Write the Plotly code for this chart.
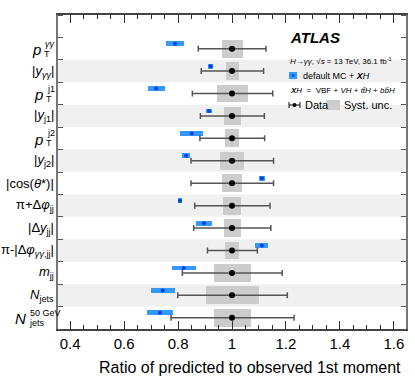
import plotly.graph_objects as go

# label pieces: main text, subscript, superscript (stacked like in ROOT)
label_main = ["<i>p</i>", "|<i>y</i>", "<i>p</i>", "|<i>y</i>", "<i>p</i>", "|<i>y</i>",
              "|cos(<i>θ</i>*)|", "π+Δ<i>φ</i>", "|Δ<i>y</i>", "π-|Δ<i>φ</i>",
              "<i>m</i>", "<i>N</i>", "<i>N</i>"]
label_sub = ["T", "<i>γγ</i>", "T", "j1", "T", "j2", "", "jj", "jj", "<i>γγ</i>,jj",
             "jj", "jets", "jets"]
label_sup = ["<i>γγ</i>", "", "j1", "", "j2", "", "", "", "", "", "", "", "50 GeV"]
label_tail = ["", "|", "", "|", "", "|", "", "", "|", "|", "", "", ""]

observed = [1.0] * 13
stat_lo = [0.125, 0.114, 0.147, 0.117, 0.119, 0.152, 0.152, 0.138, 0.142, 0.091, 0.184, 0.201, 0.226]
stat_hi = [0.126, 0.117, 0.151, 0.120, 0.121, 0.154, 0.154, 0.141, 0.144, 0.094, 0.186, 0.205, 0.230]
syst_lo = [0.038, 0.023, 0.057, 0.031, 0.026, 0.043, 0.036, 0.032, 0.031, 0.025, 0.067, 0.096, 0.067]
syst_hi = [0.040, 0.027, 0.060, 0.033, 0.027, 0.044, 0.038, 0.034, 0.033, 0.027, 0.069, 0.100, 0.069]

pred = [0.789, 0.921, 0.719, 0.915, 0.851, 0.830, 1.111, 0.807, 0.896, 1.111, 0.821, 0.743, 0.733]
pred_err = [0.033, 0.010, 0.032, 0.012, 0.043, 0.014, 0.010, 0.006, 0.031, 0.024, 0.045, 0.045, 0.047]

rows = list(range(len(label_main)))
FONT = "Liberation Sans, Arial, sans-serif"

fig = go.Figure()

# grey syst boxes
fig.add_trace(go.Bar(
    y=rows, x=[l + h for l, h in zip(syst_lo, syst_hi)],
    base=[o - l for o, l in zip(observed, syst_lo)],
    orientation="h", width=0.8, marker=dict(color="#cccccc", line_width=0),
    showlegend=False, hoverinfo="skip"))

# blue prediction boxes (shifted slightly up)
pred_rows = [r - 0.22 for r in rows]
fig.add_trace(go.Bar(
    y=pred_rows, x=[2 * e for e in pred_err],
    base=[p - e for p, e in zip(pred, pred_err)],
    orientation="h", width=0.22, marker=dict(color="#3399ff", line_width=0),
    showlegend=False, hoverinfo="skip"))
fig.add_trace(go.Scatter(
    x=pred, y=pred_rows, mode="markers",
    marker=dict(color="#0040e0", size=4, symbol="circle"),
    showlegend=False, hoverinfo="skip"))

# data with error bars
fig.add_trace(go.Scatter(
    x=observed, y=rows, mode="markers",
    marker=dict(color="black", size=6),
    error_x=dict(type="data", array=stat_hi, arrayminus=stat_lo,
                 color="#555555", thickness=1.5, width=3),
    showlegend=False, hoverinfo="skip"))

# alternating background bands
shapes = []
for r in rows:
    if r % 2 == 1:
        shapes.append(dict(type="rect", xref="paper", yref="y", x0=0, x1=1,
                           y0=r - 0.5, y1=r + 0.5, fillcolor="#f0f0f0",
                           line_width=0, layer="below"))

# pixel -> paper helpers
W, H = 415, 383
L, R, T, B = 58, 9, 15, 54
pw, ph = W - L - R, H - T - B
px = lambda x: (x - L) / pw
py = lambda y: 1 - (y - T) / ph

annotations = []

# y labels
script_w = {"<i>γγ</i>": 10, "j1": 8, "j2": 8, "50 GeV": 25}
for r in rows:
    if label_sup[r]:
        xm = 53 - script_w[label_sup[r]]
        annotations.append(dict(text=label_main[r], x=px(xm), y=r, yshift=-1,
                                xanchor="right", font=dict(size=15)))
        annotations.append(dict(text=label_sup[r], x=px(xm), y=r, yshift=5,
                                xanchor="left", font=dict(size=9)))
        annotations.append(dict(text=label_sub[r], x=px(xm - 1), y=r, yshift=-5,
                                xanchor="left", font=dict(size=9)))
    else:
        txt = label_main[r]
        if label_sub[r]:
            txt += "<sub>" + label_sub[r] + "</sub>"
        txt += label_tail[r]
        annotations.append(dict(text=txt, x=px(56), y=r, xanchor="right",
                                font=dict(size=13)))
for a in annotations:
    a.update(xref="paper", yref="y", yanchor="middle", showarrow=False)

shapes.append(dict(type="rect", xref="paper", yref="paper",
                   x0=px(289), x1=px(297), y0=py(79), y1=py(72),
                   fillcolor="#3399ff", line_width=0))
shapes.append(dict(type="line", xref="paper", yref="paper",
                   x0=px(291.5), x1=px(294.5), y0=py(75.5), y1=py(75.5),
                   line=dict(color="#0040e0", width=2)))
shapes.append(dict(type="line", xref="paper", yref="paper",
                   x0=px(289), x1=px(300), y0=py(105), y1=py(105),
                   line=dict(color="#333333", width=1.2)))
for xx in (289, 300):
    shapes.append(dict(type="line", xref="paper", yref="paper",
                       x0=px(xx), x1=px(xx), y0=py(102), y1=py(108),
                       line=dict(color="#333333", width=1.2)))
shapes.append(dict(type="circle", xref="paper", yref="paper",
                   x0=px(292.5), x1=px(296.5), y0=py(107), y1=py(103),
                   fillcolor="black", line_width=0))
shapes.append(dict(type="rect", xref="paper", yref="paper",
                   x0=px(326), x1=px(340), y0=py(110), y1=py(100),
                   fillcolor="#cccccc", line_width=0))

legend = [
    dict(text="<b><i>ATLAS</i></b>", x=px(288), y=py(37), font=dict(size=15)),
    dict(text="<i>H</i>→<i>γγ</i>, √<i>s</i> = 13 TeV, 36.1 fb<sup>-1</sup>",
         x=px(288), y=py(61), font=dict(size=8)),
    dict(text="default MC + <b><i>X</i></b><i>H</i>", x=px(301), y=py(75.5), font=dict(size=9)),
    dict(text="<b><i>X</i></b><i>H</i>  =  VBF + <i>VH</i> + <i>tt̄H</i> + <i>bb̄H</i>",
         x=px(288), y=py(91), font=dict(size=8)),
    dict(text="Data", x=px(303), y=py(105), font=dict(size=11)),
    dict(text="Syst. unc.", x=px(342), y=py(105), font=dict(size=11)),
]
for a in legend:
    a.update(xref="paper", yref="paper", xanchor="left", yanchor="middle",
             showarrow=False)
annotations += legend
annotations.append(dict(text="Ratio of predicted to observed 1st moment",
                        xref="paper", yref="paper", x=px(403), y=py(367),
                        xanchor="right", yanchor="middle", showarrow=False,
                        font=dict(size=16)))

fig.update_layout(
    width=W, height=H,
    margin=dict(l=L, r=R, t=T, b=B, autoexpand=False),
    plot_bgcolor="white", paper_bgcolor="white",
    barmode="overlay", bargap=0,
    font=dict(family=FONT, color="black"),
    shapes=shapes, annotations=annotations,
    xaxis=dict(range=[0.355, 1.645], tickvals=[0.4, 0.6, 0.8, 1.0, 1.2, 1.4, 1.6],
               ticktext=["0.4", "0.6", "0.8", "1", "1.2", "1.4", "1.6"],
               ticks="inside", ticklen=8, tickcolor="#333", tickwidth=1,
               minor=dict(ticks="inside", dtick=0.05, tick0=0, ticklen=4,
                          tickcolor="#333", showgrid=False),
               showline=True, linecolor="#444", linewidth=1.5, mirror="allticks",
               showgrid=False, zeroline=False, tickfont=dict(size=15),
               automargin=False),
    yaxis=dict(range=[12.5, -1.5], showticklabels=False, ticks="",
               minor=dict(ticks="inside", dtick=1, tick0=0.5, ticklen=5,
                          tickcolor="#555", showgrid=False),
               showline=True, linecolor="#777", linewidth=2, mirror="allticks",
               showgrid=False, zeroline=False, automargin=False),
)

fig.write_html("out.html", config={"displayModeBar": False},
               post_script="document.body.style.margin='0';")
